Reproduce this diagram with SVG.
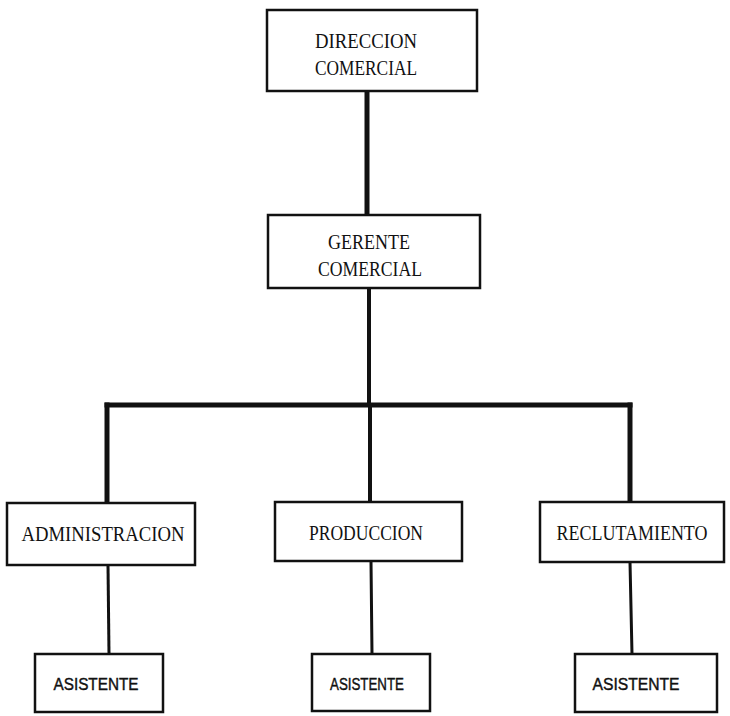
<svg xmlns="http://www.w3.org/2000/svg" width="730" height="716" viewBox="0 0 730 716">
<style>
.box{fill:#fff;stroke:#111;stroke-width:2.5}
.t{font-family:"Liberation Serif","Times New Roman",serif;font-size:20px;fill:#111;text-anchor:middle}
.s{font-family:"Liberation Sans",Arial,sans-serif;font-size:16px;fill:#111;text-anchor:middle;stroke:#111;stroke-width:0.4}
.c{stroke:#111;fill:none;stroke-linecap:square}
</style>
<rect width="730" height="716" fill="#fff"/>
<g id="connectors">
<line class="c" x1="367" y1="91" x2="367" y2="215" stroke-width="5"/>
<line class="c" x1="369" y1="288" x2="369" y2="405" stroke-width="4"/>
<line class="c" x1="107" y1="405" x2="630" y2="405" stroke-width="5"/>
<line class="c" x1="107" y1="405" x2="107" y2="503" stroke-width="5"/>
<line class="c" x1="370" y1="405" x2="370" y2="502" stroke-width="4"/>
<line class="c" x1="630" y1="405" x2="630" y2="502" stroke-width="5"/>
<line class="c" x1="108" y1="565" x2="109" y2="654" stroke-width="3"/>
<line class="c" x1="371" y1="561" x2="372" y2="654" stroke-width="3"/>
<line class="c" x1="630" y1="562" x2="632" y2="654" stroke-width="3"/>
</g>
<g id="direccion">
<rect class="box" x="267" y="10" width="210" height="81"/>
<text class="t" x="366" y="48" textLength="102" lengthAdjust="spacingAndGlyphs">DIRECCION</text>
<text class="t" x="366" y="75" textLength="102" lengthAdjust="spacingAndGlyphs">COMERCIAL</text>
</g>
<g id="gerente">
<rect class="box" x="268" y="215" width="212" height="73"/>
<text class="t" x="369" y="249" textLength="82" lengthAdjust="spacingAndGlyphs">GERENTE</text>
<text class="t" x="370" y="276" textLength="104" lengthAdjust="spacingAndGlyphs">COMERCIAL</text>
</g>
<g id="administracion">
<rect class="box" x="7" y="503" width="188" height="62"/>
<text class="t" x="103" y="541" textLength="163" lengthAdjust="spacingAndGlyphs">ADMINISTRACION</text>
</g>
<g id="produccion">
<rect class="box" x="275" y="502" width="187" height="59"/>
<text class="t" x="366" y="540" textLength="114" lengthAdjust="spacingAndGlyphs">PRODUCCION</text>
</g>
<g id="reclutamiento">
<rect class="box" x="540" y="502" width="184" height="60"/>
<text class="t" x="632" y="540" textLength="151" lengthAdjust="spacingAndGlyphs">RECLUTAMIENTO</text>
</g>
<g id="asistente1">
<rect class="box" x="35" y="654" width="128" height="58"/>
<text class="s" x="96" y="690" textLength="85" lengthAdjust="spacingAndGlyphs">ASISTENTE</text>
</g>
<g id="asistente2">
<rect class="box" x="312" y="654" width="118" height="57"/>
<text class="s" x="367" y="690" textLength="74" lengthAdjust="spacingAndGlyphs">ASISTENTE</text>
</g>
<g id="asistente3">
<rect class="box" x="575" y="654" width="142" height="58"/>
<text class="s" x="636" y="690" textLength="87" lengthAdjust="spacingAndGlyphs">ASISTENTE</text>
</g>
</svg>
